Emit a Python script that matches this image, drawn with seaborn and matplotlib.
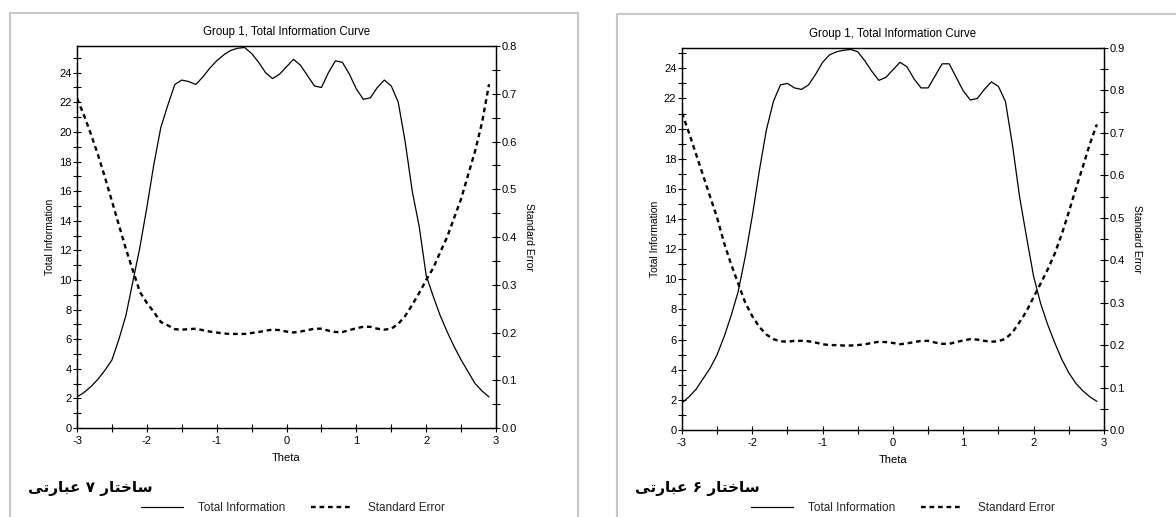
import matplotlib
matplotlib.use("Agg")
import matplotlib.pyplot as plt
import seaborn as sns
import pandas as pd
from matplotlib.lines import Line2D
from matplotlib.patches import Rectangle
from matplotlib.ticker import MultipleLocator, FormatStrFormatter

# ---------------- data ----------------
theta = [-3.0, -2.9, -2.8, -2.7, -2.6, -2.5, -2.4, -2.3, -2.2, -2.1,
         -2.0, -1.9, -1.8, -1.7, -1.6, -1.5, -1.4, -1.3, -1.2, -1.1,
         -1.0, -0.9, -0.8, -0.7, -0.6, -0.5, -0.4, -0.3, -0.2, -0.1,
         0.0, 0.1, 0.2, 0.3, 0.4, 0.5, 0.6, 0.7, 0.8, 0.9,
         1.0, 1.1, 1.2, 1.3, 1.4, 1.5, 1.6, 1.7, 1.8, 1.9,
         2.0, 2.1, 2.2, 2.3, 2.4, 2.5, 2.6, 2.7, 2.8, 2.9]

# 7-item structure (left panel)
info_7 = [2.1, 2.4, 2.8, 3.3, 3.9, 4.6, 6.0, 7.6, 9.9, 12.2,
          14.9, 17.8, 20.3, 21.8, 23.2, 23.5, 23.4, 23.2, 23.7, 24.3,
          24.8, 25.2, 25.5, 25.65, 25.7, 25.3, 24.7, 24.0, 23.6, 23.9,
          24.4, 24.9, 24.5, 23.8, 23.1, 23.0, 24.0, 24.8, 24.7, 23.9,
          22.9, 22.2, 22.3, 23.0, 23.5, 23.1, 22.0, 19.3, 16.0, 13.6,
          10.3, 8.9, 7.6, 6.5, 5.5, 4.6, 3.8, 3.0, 2.5, 2.1]
se_7 = [0.690, 0.655, 0.615, 0.572, 0.525, 0.475, 0.425, 0.375, 0.330, 0.285,
        0.262, 0.243, 0.222, 0.215, 0.207, 0.206, 0.207, 0.208, 0.205, 0.202,
        0.200, 0.198, 0.197, 0.197, 0.197, 0.199, 0.201, 0.204, 0.206, 0.205,
        0.202, 0.200, 0.202, 0.205, 0.208, 0.208, 0.204, 0.201, 0.201, 0.205,
        0.209, 0.212, 0.212, 0.208, 0.206, 0.208, 0.218, 0.235, 0.258, 0.283,
        0.310, 0.335, 0.368, 0.400, 0.440, 0.480, 0.530, 0.580, 0.640, 0.720]

# 6-item structure (right panel)
info_6 = [1.8, 2.2, 2.7, 3.4, 4.1, 5.0, 6.2, 7.6, 9.2, 11.5,
          14.2, 17.2, 19.9, 21.8, 22.9, 23.0, 22.7, 22.6, 22.9, 23.6,
          24.4, 24.9, 25.1, 25.2, 25.25, 25.1, 24.5, 23.8, 23.2, 23.4,
          23.9, 24.4, 24.1, 23.3, 22.7, 22.7, 23.5, 24.3, 24.3, 23.4,
          22.5, 21.9, 22.0, 22.6, 23.1, 22.8, 21.8, 18.9, 15.5, 12.8,
          10.2, 8.4, 7.0, 5.8, 4.7, 3.8, 3.1, 2.6, 2.2, 1.9]
se_6 = [0.747, 0.700, 0.650, 0.600, 0.550, 0.500, 0.440, 0.390, 0.345, 0.300,
        0.268, 0.243, 0.225, 0.214, 0.209, 0.208, 0.210, 0.210, 0.209, 0.206,
        0.202, 0.200, 0.200, 0.199, 0.199, 0.200, 0.202, 0.205, 0.208, 0.207,
        0.205, 0.202, 0.204, 0.207, 0.210, 0.210, 0.206, 0.203, 0.203, 0.207,
        0.211, 0.214, 0.213, 0.210, 0.208, 0.209, 0.215, 0.230, 0.254, 0.280,
        0.313, 0.345, 0.378, 0.415, 0.461, 0.513, 0.568, 0.620, 0.674, 0.720]

title = "Group 1, Total Information Curve"
x_label = "Theta"
y_label = "Total Information"
y2_label = "Standard Error"
legend_labels = ["Total Information", "Standard Error"]
# "ساختار ۷ عبارتی" / "ساختار ۶ عبارتی" written in shaped (visual order) Persian glyphs
caption_7 = "\ufef0\ufe97\ufead\ufe8e\ufe92\ufecb \u06f7 \ufead\ufe8e\ufe98\ufea7\ufe8e\ufeb3"
caption_6 = "\ufef0\ufe97\ufead\ufe8e\ufe92\ufecb \u06f6 \ufead\ufe8e\ufe98\ufea7\ufe8e\ufeb3"

# ---------------- style ----------------
sns.set_theme(style="white")
plt.rcParams["font.family"] = ["Liberation Sans", "DejaVu Sans"]
plt.rcParams["axes.unicode_minus"] = False

fig = plt.figure(figsize=(11.76, 5.17), dpi=100)

panels = [
    dict(info=info_7, se=se_7, info_top=25.8, se_top=0.8,
         rect=[0.0655, 0.1721, 0.3563, 0.7389], caption=caption_7,
         cap_x=0.024, leg_x=0.249,
         border=(0.0085, -0.05, 0.4830, 1.0249)),
    dict(info=info_6, se=se_6, info_top=25.35, se_top=0.9,
         rect=[0.5799, 0.1683, 0.3588, 0.7389], caption=caption_6,
         cap_x=0.540, leg_x=0.768,
         border=(0.5247, -0.05, 0.60, 1.0229)),
]

dash_style = (0, (2.0, 1.6))

for p in panels:
    df = pd.DataFrame({"Theta": theta, "Total Information": p["info"],
                       "Standard Error": p["se"]})
    ax = fig.add_axes(p["rect"])
    sns.lineplot(data=df, x="Theta", y="Total Information", ax=ax,
                 color="black", linewidth=0.9)
    ax2 = ax.twinx()
    sns.lineplot(data=df, x="Theta", y="Standard Error", ax=ax2,
                 color="black", linewidth=1.7, linestyle=dash_style)

    ax.set_xlim(-3, 3)
    ax.set_ylim(0, p["info_top"])
    ax2.set_ylim(0, p["se_top"])

    ax.xaxis.set_major_locator(MultipleLocator(1))
    ax.xaxis.set_minor_locator(MultipleLocator(0.5))
    ax.yaxis.set_major_locator(MultipleLocator(2))
    ax.yaxis.set_minor_locator(MultipleLocator(1))
    ax2.yaxis.set_major_locator(MultipleLocator(0.1))
    ax2.yaxis.set_minor_locator(MultipleLocator(0.05))
    ax2.yaxis.set_major_formatter(FormatStrFormatter("%.1f"))

    ax.tick_params(axis="both", which="both", direction="inout", length=6,
                   width=0.8, color="black", labelsize=8, labelcolor="black",
                   bottom=True, left=True, top=False, right=False)
    ax.tick_params(axis="x", pad=3)
    ax.tick_params(axis="y", pad=1)
    ax2.tick_params(axis="y", which="both", direction="inout", length=6,
                    width=0.8, color="black", labelsize=8, labelcolor="black",
                    right=True, left=False, labelright=True, pad=1)

    for a in (ax, ax2):
        for s in a.spines.values():
            s.set_color("black")
            s.set_linewidth(0.9)
        a.grid(False)

    ax.set_xlabel(x_label, fontsize=8, labelpad=5, color="black")
    ax.set_ylabel(y_label, fontsize=7.5, labelpad=3, color="black")
    ax2.set_ylabel(y2_label, fontsize=7.5, labelpad=5, rotation=270,
                   va="bottom", color="black")
    ax.set_title(title, fontsize=8.3, pad=8, color="black")

    fig.text(p["cap_x"], 0.056, p["caption"], family="DejaVu Sans",
             fontweight="bold", fontsize=11, ha="left", va="center",
             color="black")

    handles = [Line2D([], [], color="black", linewidth=0.9),
               Line2D([], [], color="black", linewidth=1.7,
                      linestyle=dash_style)]
    fig.legend(handles, legend_labels, loc="center",
               bbox_to_anchor=(p["leg_x"], 0.0174), ncol=2, frameon=False,
               fontsize=8.5, handlelength=3.55, handletextpad=1.27,
               columnspacing=2.2, borderpad=0, borderaxespad=0)

    bx, by, bw, bh = p["border"]
    fig.add_artist(Rectangle((bx, by), bw, bh, transform=fig.transFigure,
                             fill=False, edgecolor="#c8c8c8", linewidth=1.5))

fig.savefig("out.png", dpi=100)
